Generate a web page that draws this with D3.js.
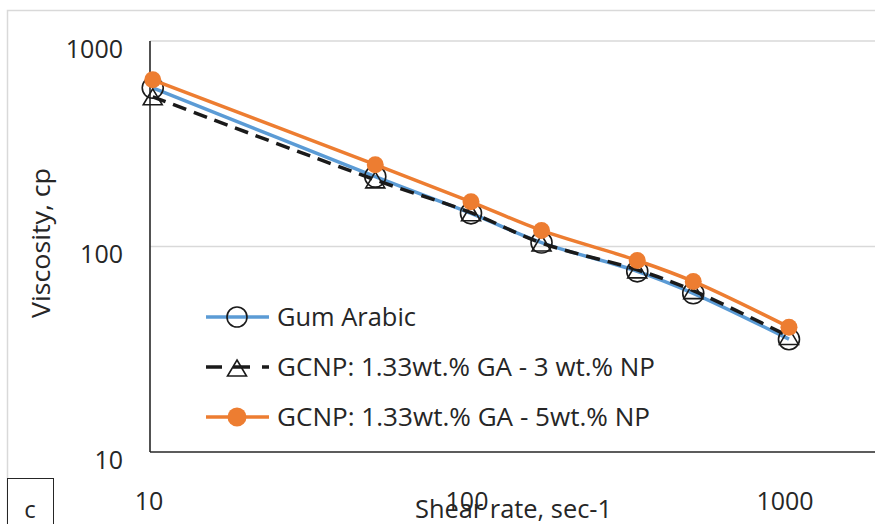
<!DOCTYPE html>
<html>
<head>
<meta charset="utf-8">
<script src="https://cdn.jsdelivr.net/npm/d3@7"></script>
<style>
  html, body { margin: 0; padding: 0; background: #fff; }
  svg { display: block; font-family: "Open Sans", "Noto Sans", sans-serif; }
</style>
</head>
<body>
<svg id="chart" width="875" height="524"></svg>
<script>
// Shear rates (sec-1) from the viscometer speeds
const shearRates = [10.2, 51.1, 102.2, 170.3, 340.6, 510.9, 1021.8];
// Viscosity readings (cp) for each fluid
const gumArabic = [592, 219, 145, 104.5, 75.7, 59.2, 35.4];
const gcnp3 = [535, 211, 146, 104, 77, 61, 36.5];
const gcnp5 = [647, 250, 165, 119.7, 85.5, 67.6, 40.5];
const seriesNames = ["Gum Arabic", "GCNP: 1.33wt.% GA - 3 wt.% NP", "GCNP: 1.33wt.% GA - 5wt.% NP"];
const xTicks = [10, 100, 1000];
const yTicks = [10, 100, 1000];

const W = 875, H = 524;
const svg = d3.select("#chart");

const x = d3.scaleLog().domain([10, 1000]).range([150, 786]);
const y = d3.scaleLog().domain([10, 1000]).range([452, 41]);

// outer chart frame
svg.append("rect").attr("x", 7.5).attr("y", 10.5).attr("width", W + 20).attr("height", H + 20)
  .attr("fill", "none").attr("stroke", "#d9d9d9").attr("stroke-width", 1.5);

// horizontal gridlines at each decade above the floor
svg.append("g").selectAll("line").data(yTicks.filter(d => d > 10)).join("line")
  .attr("x1", x(10)).attr("x2", W)
  .attr("y1", d => y(d)).attr("y2", d => y(d))
  .attr("stroke", "#d9d9d9").attr("stroke-width", 1.5);

// axes (lines only; labels drawn separately)
svg.append("line").attr("x1", x(10)).attr("x2", x(10)).attr("y1", y(1000)).attr("y2", y(10))
  .attr("stroke", "#262626").attr("stroke-width", 1.6);
svg.append("line").attr("x1", x(10)).attr("x2", W).attr("y1", y(10)).attr("y2", y(10))
  .attr("stroke", "#262626").attr("stroke-width", 1.6);

// y tick labels
svg.append("g").selectAll("text").data(yTicks).join("text")
  .attr("x", 123).attr("y", d => y(d) + 16.5)
  .attr("text-anchor", "end").attr("font-size", 25).attr("fill", "#262626")
  .text(d => d);

// x tick labels
svg.append("g").selectAll("text").data(xTicks).join("text")
  .attr("x", d => x(d) - 1).attr("y", 510)
  .attr("text-anchor", "middle").attr("font-size", 25).attr("fill", "#262626")
  .text(d => d);

// axis titles
svg.append("text").attr("x", 415).attr("y", 518)
  .attr("font-size", 26).attr("fill", "#262626")
  .attr("textLength", 197).attr("lengthAdjust", "spacingAndGlyphs")
  .text("Shear rate, sec-1");
svg.append("text").attr("transform", "translate(50,243) rotate(-90)")
  .attr("text-anchor", "middle").attr("font-size", 26).attr("fill", "#262626")
  .attr("textLength", 150).attr("lengthAdjust", "spacingAndGlyphs")
  .text("Viscosity, cp");

// panel letter box
svg.append("rect").attr("x", 7.5).attr("y", 478.5).attr("width", 46).attr("height", 60)
  .attr("fill", "#fff").attr("stroke", "#262626").attr("stroke-width", 1);
svg.append("text").attr("x", 30).attr("y", 518).attr("text-anchor", "middle")
  .attr("font-size", 24).attr("fill", "#262626").text("c");

const curve = d3.curveCatmullRom.alpha(0.5);
const line = d3.line().x(d => x(d[0])).y(d => y(d[1])).curve(curve);
const pts = vals => shearRates.map((s, i) => [s, vals[i]]);

// open triangle marker centred on its point
const triPath = "M0,-8 L9.5,8 L-9.5,8 Z";

// Gum Arabic
svg.append("path").attr("d", line(pts(gumArabic)))
  .attr("fill", "none").attr("stroke", "#5b9bd5").attr("stroke-width", 3.5);
svg.append("g").selectAll("circle").data(pts(gumArabic)).join("circle")
  .attr("cx", d => x(d[0])).attr("cy", d => y(d[1])).attr("r", 10.5)
  .attr("fill", "none").attr("stroke", "#1a1a1a").attr("stroke-width", 1.6);

// GCNP 3 wt.% NP
svg.append("path").attr("d", line(pts(gcnp3)))
  .attr("fill", "none").attr("stroke", "#1a1a1a").attr("stroke-width", 3.5)
  .attr("stroke-dasharray", "14,8");
svg.append("g").selectAll("path").data(pts(gcnp3)).join("path")
  .attr("transform", d => `translate(${x(d[0])},${y(d[1])})`)
  .attr("d", triPath)
  .attr("fill", "none").attr("stroke", "#1a1a1a").attr("stroke-width", 1.6);

// GCNP 5 wt.% NP
svg.append("path").attr("d", line(pts(gcnp5)))
  .attr("fill", "none").attr("stroke", "#ed7d31").attr("stroke-width", 3.5);
svg.append("g").selectAll("circle").data(pts(gcnp5)).join("circle")
  .attr("cx", d => x(d[0])).attr("cy", d => y(d[1])).attr("r", 8.5)
  .attr("fill", "#ed7d31");

// legend
const legendRows = [317, 367, 417];
const legendWidths = [139, 378, 373];
const lg = svg.append("g");
// row 1
lg.append("line").attr("x1", 206).attr("x2", 269).attr("y1", legendRows[0]).attr("y2", legendRows[0])
  .attr("stroke", "#5b9bd5").attr("stroke-width", 3.5);
lg.append("circle").attr("cx", 237).attr("cy", legendRows[0]).attr("r", 10)
  .attr("fill", "none").attr("stroke", "#1a1a1a").attr("stroke-width", 1.6);
// row 2
lg.append("line").attr("x1", 206).attr("x2", 269).attr("y1", legendRows[1]).attr("y2", legendRows[1])
  .attr("stroke", "#1a1a1a").attr("stroke-width", 3.5).attr("stroke-dasharray", "16,11,17,12,7");
lg.append("path").attr("transform", `translate(237,${legendRows[1] + 1})`).attr("d", triPath)
  .attr("fill", "none").attr("stroke", "#1a1a1a").attr("stroke-width", 1.6);
// row 3
lg.append("line").attr("x1", 206).attr("x2", 269).attr("y1", legendRows[2]).attr("y2", legendRows[2])
  .attr("stroke", "#ed7d31").attr("stroke-width", 3.5);
lg.append("circle").attr("cx", 237).attr("cy", legendRows[2]).attr("r", 9.5).attr("fill", "#ed7d31");

lg.selectAll("text").data(seriesNames).join("text")
  .attr("x", 277).attr("y", (d, i) => legendRows[i] + 9)
  .attr("font-size", 25).attr("fill", "#262626")
  .attr("textLength", (d, i) => legendWidths[i]).attr("lengthAdjust", "spacingAndGlyphs")
  .text(d => d);
</script>
</body>
</html>
